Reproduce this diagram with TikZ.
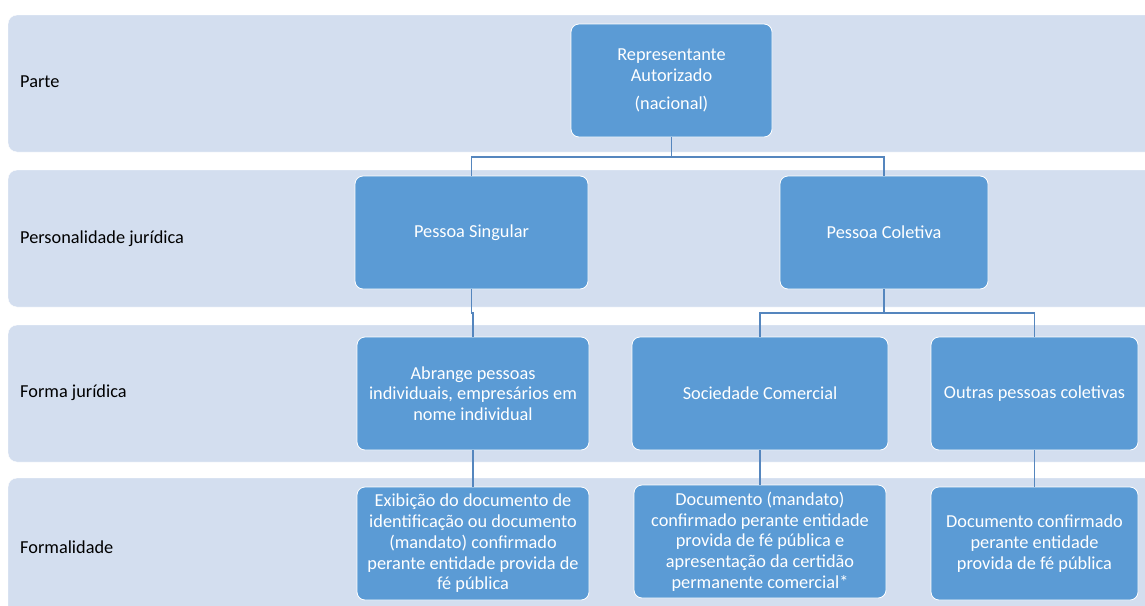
\documentclass[tikz,border=0pt]{standalone}
\usepackage{fontspec}
\setmainfont{Carlito}
\usetikzlibrary{calc}
\definecolor{bandc}{HTML}{D3DEEF}
\definecolor{boxc}{HTML}{5B9BD5}
\definecolor{linec}{HTML}{5586BE}
\begin{document}
\begin{tikzpicture}[x=1pt,y=-1pt,
  band/.style={fill=bandc,draw=white,rounded corners=9pt},
  blab/.style={anchor=west,font=\fontsize{18.3}{21}\selectfont,text=black,inner sep=0pt},
  bx/.style={rectangle,fill=boxc,draw=white,line width=0.8pt,rounded corners=8pt,
    minimum height=113pt,align=center,text=white,inner sep=0pt,
    font=\fontsize{18.3}{20.7}\selectfont},
  conn/.style={draw=linec,line width=1.3pt}]
\useasboundingbox (0,0) rectangle (1145,605);
\clip (0,0) rectangle (1145,605);
% bands
\draw[band] (8,15) rectangle (1170,152);
\draw[band] (8,170) rectangle (1170,307);
\draw[band] (8,325) rectangle (1170,462);
\draw[band] (8,478) rectangle (1170,640);
\node[blab] (l1) at (20,82) {Parte};
\node[blab] (l2) at (20,239) {Personalidade jurídica};
\node[blab] (l3) at (20,393) {Forma jurídica};
\node[blab] (l4) at (20,547) {Formalidade};
% boxes
\node[bx,minimum width=201pt] (rep) at (671.5,80.5) {Representante\\Autorizado\\[7pt](nacional)};
\node[bx,minimum width=233pt] (ps) at (471.5,232.5) {Pessoa Singular};
\node[bx,minimum width=208pt] (pc) at (884,232.5) {Pessoa Coletiva};
\node[bx,minimum width=232pt] (ab) at (473,393.5) {Abrange pessoas\\individuais, empresários em\\nome individual};
\node[bx,minimum width=256pt] (sc) at (760,393.5) {Sociedade Comercial};
\node[bx,minimum width=207pt] (op) at (1034.5,393.5) {Outras pessoas coletivas};
\node[bx,minimum width=232pt] (ex) at (473,543.5) {Exibição do documento de\\identificação ou documento\\(mandato) confirmado\\perante entidade provida de\\fé pública};
\node[bx,minimum width=252pt] (dm) at (760,541.5) {Documento (mandato)\\confirmado perante entidade\\provida de fé pública e\\apresentação da certidão\\permanente comercial*};
\node[bx,minimum width=207pt] (dc) at (1034.5,543.5) {Documento confirmado\\perante entidade\\provida de fé pública};
% connectors
\coordinate (j1) at (0,157);
\coordinate (j2) at (0,313);
\draw[conn] (rep.south) -- (rep.south |- j1) -| (ps.north);
\draw[conn] (rep.south |- j1) -| (pc.north);
\draw[conn] (ps.south) -- (ps.south |- j2) -| (ab.north);
\draw[conn] (pc.south) -- (pc.south |- j2) -| (sc.north);
\draw[conn] (pc.south |- j2) -| (op.north);
\draw[conn] (ab.south) -- (ex.north);
\draw[conn] (sc.south) -- (dm.north);
\draw[conn] (op.south) -- (dc.north);
\end{tikzpicture}
\end{document}
